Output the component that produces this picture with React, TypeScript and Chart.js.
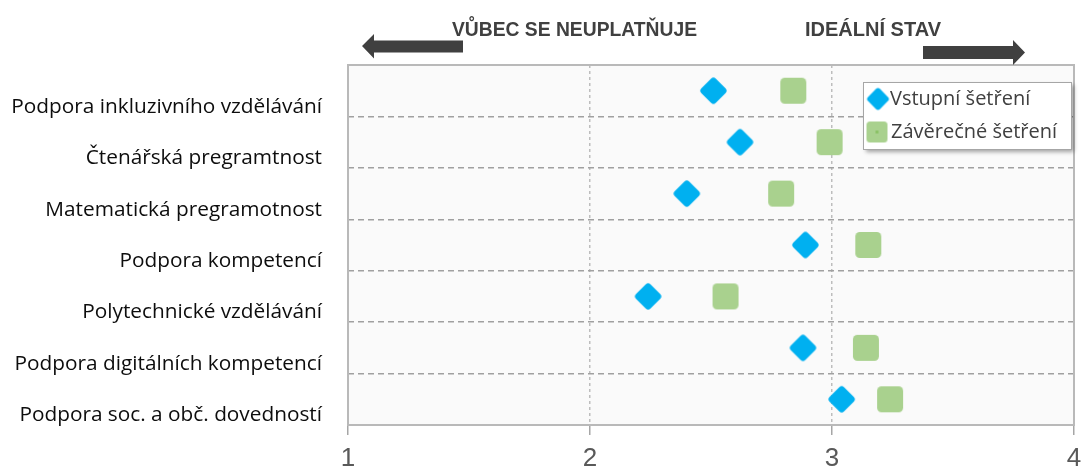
import React, { useEffect, useRef } from "react";
import { Chart, registerables } from "chart.js";

Chart.register(...registerables);

const categories = [
  "Podpora inkluzivního vzdělávání",
  "Čtenářská pregramtnost",
  "Matematická pregramotnost",
  "Podpora kompetencí",
  "Polytechnické vzdělávání",
  "Podpora digitálních kompetencí",
  "Podpora soc. a obč. dovedností",
];
const vstupniValues = [2.51, 2.62, 2.4, 2.89, 2.24, 2.88, 3.04];
const zaverecneValues = [2.84, 2.99, 2.79, 3.15, 2.56, 3.14, 3.24];
const seriesNames = ["Vstupní šetření", "Závěrečné šetření"];
const xMin = 1;
const xMax = 4;
const headerLeft = "VŮBEC SE NEUPLATŇUJE";
const headerRight = "IDEÁLNÍ STAV";

const BLUE = "#00B0F0";
const GREEN = "#A9D18E";

function roundRectPath(ctx: CanvasRenderingContext2D, x: number, y: number, w: number, h: number, r: number) {
  ctx.beginPath();
  ctx.moveTo(x + r, y);
  ctx.lineTo(x + w - r, y);
  ctx.arcTo(x + w, y, x + w, y + r, r);
  ctx.lineTo(x + w, y + h - r);
  ctx.arcTo(x + w, y + h, x + w - r, y + h, r);
  ctx.lineTo(x + r, y + h);
  ctx.arcTo(x, y + h, x, y + h - r, r);
  ctx.lineTo(x, y + r);
  ctx.arcTo(x, y, x + r, y, r);
  ctx.closePath();
}

function makeMarker(side: number, r: number, color: string, rotate: boolean, dot?: string) {
  const c = document.createElement("canvas");
  const size = Math.ceil(rotate ? side * Math.SQRT2 : side) + 2;
  c.width = size;
  c.height = size;
  const ctx = c.getContext("2d")!;
  ctx.translate(size / 2, size / 2);
  if (rotate) ctx.rotate(Math.PI / 4);
  ctx.fillStyle = color;
  roundRectPath(ctx, -side / 2, -side / 2, side, side, r);
  ctx.fill();
  if (dot) {
    ctx.fillStyle = dot;
    ctx.fillRect(-1.5, -1.5, 3, 3);
  }
  return c;
}

const zeroPadding = () => ({ left: 0, top: 0, right: 0, bottom: 0 });

export default function App() {
  const ref = useRef<HTMLCanvasElement | null>(null);

  useEffect(() => {
    if (!ref.current) return;
    const blueMarker = makeMarker(20.5, 3.5, BLUE, true);
    const greenMarker = makeMarker(26, 4.5, GREEN, false);
    const blueLegend = makeMarker(17, 3, BLUE, true);
    const greenLegend = makeMarker(21, 3.5, GREEN, false, "#8BC266");

    const decor = {
      id: "decor",
      beforeDraw(chart: any) {
        const { ctx, chartArea: a } = chart;
        ctx.save();
        ctx.fillStyle = "#fafafa";
        ctx.fillRect(a.left, a.top, a.right - a.left, a.bottom - a.top);
        ctx.restore();
      },
      beforeDatasetsDraw(chart: any) {
        const { ctx, chartArea: a } = chart;
        ctx.save();
        ctx.strokeStyle = "#b9b9b9";
        ctx.lineWidth = 2;
        ctx.strokeRect(a.left, a.top, a.right - a.left, a.bottom - a.top);
        ctx.restore();
      },
      afterDraw(chart: any) {
        const { ctx } = chart;
        ctx.save();
        // header texts
        ctx.fillStyle = "#404040";
        ctx.font = 'bold 21px "Liberation Sans", Arial, sans-serif';
        ctx.textBaseline = "alphabetic";
        ctx.textAlign = "left";
        ctx.fillText(headerLeft, 452, 36, 245);
        ctx.fillText(headerRight, 805, 36, 136);
        // arrows
        ctx.fillStyle = "#404040";
        ctx.beginPath();
        ctx.moveTo(362, 46);
        ctx.lineTo(374, 34);
        ctx.lineTo(374, 40.5);
        ctx.lineTo(463, 40.5);
        ctx.lineTo(463, 52.5);
        ctx.lineTo(374, 52.5);
        ctx.lineTo(374, 58.5);
        ctx.closePath();
        ctx.fill();
        ctx.beginPath();
        ctx.moveTo(923, 46);
        ctx.lineTo(1013, 46);
        ctx.lineTo(1013, 40);
        ctx.lineTo(1025, 52.5);
        ctx.lineTo(1013, 65);
        ctx.lineTo(1013, 59);
        ctx.lineTo(923, 59);
        ctx.closePath();
        ctx.fill();
        // legend
        const lx = 863, ly = 82, lw = 208, lh = 67;
        ctx.save();
        ctx.shadowColor = "rgba(0,0,0,0.35)";
        ctx.shadowBlur = 4;
        ctx.shadowOffsetX = 3;
        ctx.shadowOffsetY = 3;
        ctx.fillStyle = "#ffffff";
        ctx.fillRect(lx, ly, lw, lh);
        ctx.restore();
        ctx.strokeStyle = "#a6a6a6";
        ctx.lineWidth = 1;
        ctx.strokeRect(lx + 0.5, ly + 0.5, lw, lh);
        ctx.drawImage(blueLegend, 878 - blueLegend.width / 2, 99 - blueLegend.height / 2);
        ctx.drawImage(greenLegend, 877 - greenLegend.width / 2, 132 - greenLegend.height / 2);
        ctx.fillStyle = "#404040";
        ctx.font = '20px "Open Sans", sans-serif';
        ctx.textBaseline = "middle";
        ctx.fillText(seriesNames[0], 890, 99);
        ctx.fillText(seriesNames[1], 891, 132);
        ctx.restore();
      },
    };

    const chart = new Chart(ref.current, {
      type: "scatter",
      data: {
        datasets: [
          {
            label: seriesNames[0],
            data: vstupniValues.map((v, i) => ({ x: v, y: categories[i] })) as any,
            pointStyle: blueMarker as any,
            pointRadius: 13,
            backgroundColor: BLUE,
          },
          {
            label: seriesNames[1],
            data: zaverecneValues.map((v, i) => ({ x: v, y: categories[i] })) as any,
            pointStyle: greenMarker as any,
            pointRadius: 13,
            backgroundColor: GREEN,
          },
        ],
      },
      options: {
        responsive: false,
        animation: false,
        devicePixelRatio: 1,
        layout: { autoPadding: false, padding: { top: 65, right: 7, left: 0, bottom: 0 } },
        plugins: { legend: { display: false }, tooltip: { enabled: false } },
        scales: {
          x: {
            type: "linear",
            min: xMin,
            max: xMax,
            ticks: {
              stepSize: 1,
              color: "#595959",
              font: { family: '"Liberation Sans", Arial, sans-serif', size: 26, lineHeight: 1 },
              padding: 11,
            },
            grid: {
              color: (c: any) => (c.tick && (c.tick.value === xMin || c.tick.value === xMax) ? "transparent" : "#bdbdbd"),
              lineWidth: 1.5,
              drawTicks: true,
              tickLength: 10,
              tickColor: "#a6a6a6",
              tickWidth: 1.5,
            },
            border: { display: false, dash: [3, 3] },
            afterFit: (s: any) => {
              s.height = 43;
              s.paddingLeft = 0;
              s.paddingRight = 0;
              s.getPadding = zeroPadding;
            },
          },
          y: {
            type: "category",
            labels: categories,
            offset: true,
            ticks: {
              color: "#0d0d0d",
              font: { family: '"Open Sans", sans-serif', size: 20.8 },
              padding: 26,
              labelOffset: 16,
              autoSkip: false,
            },
            grid: {
              offset: true,
              color: (c: any) => (c.type !== "tick" || c.index === 0 ? "transparent" : "#a0a0a0"),
              lineWidth: 1.5,
              drawTicks: false,
            },
            border: { display: false, dash: [6, 4] },
            afterFit: (s: any) => {
              s.width = 348;
              s.getPadding = zeroPadding;
            },
          },
        },
      },
      plugins: [decor],
    });
    return () => chart.destroy();
  }, []);

  return (
    <div style={{ position: "fixed", left: 0, top: 0, width: 1081, height: 468, background: "#ffffff" }}>
      <canvas ref={ref} width={1081} height={468} style={{ width: 1081, height: 468, display: "block" }} />
    </div>
  );
}
